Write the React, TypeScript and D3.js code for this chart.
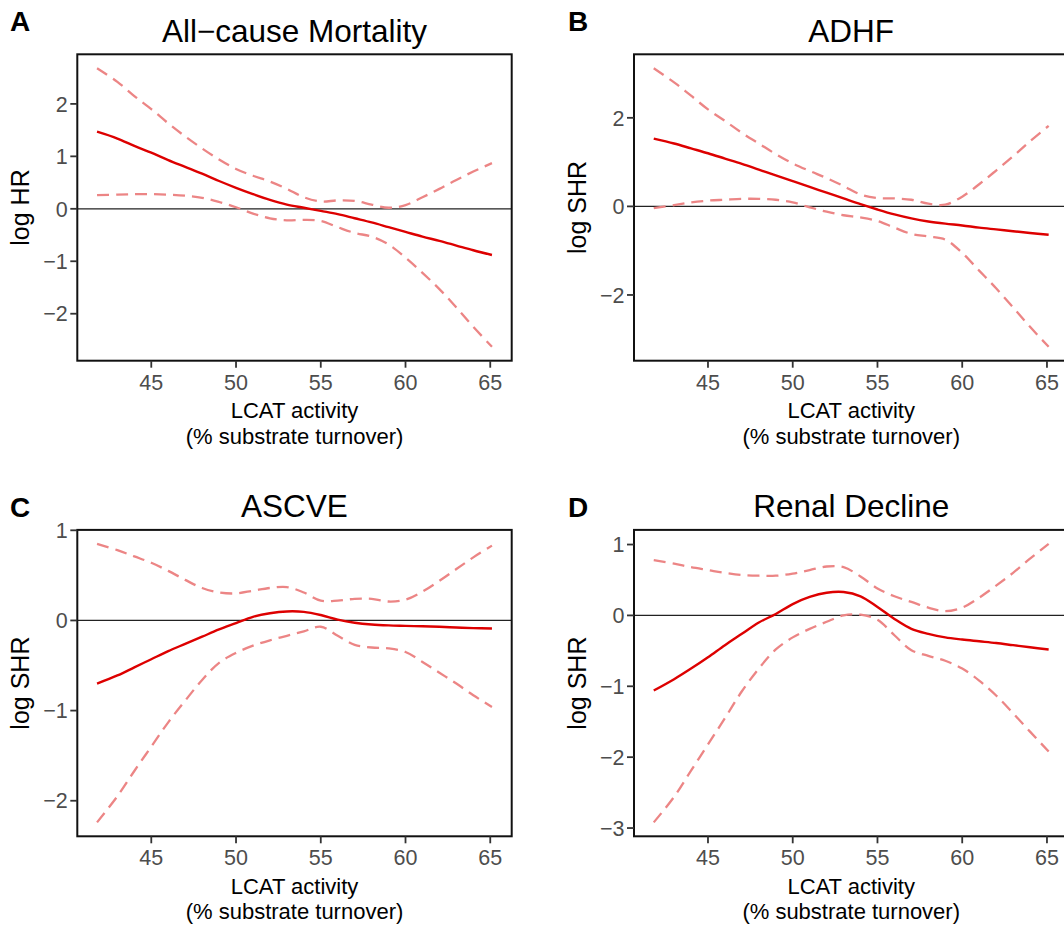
import React from 'react';
import * as d3 from 'd3';

// ---------- data ----------
const xValues = [41.8, 43, 44, 45, 46, 47, 48, 49, 50, 51, 52, 53, 54, 55, 56, 57, 58, 59, 60, 61, 62, 63, 64, 65.1];
const xTicks = [45, 50, 55, 60, 65];

const panelLetters = ['A', 'B', 'C', 'D'];
const panelTitles = ['All\u2212cause Mortality', 'ADHF', 'ASCVE', 'Renal Decline'];
const yTitles = ['log HR', 'log SHR', 'log SHR', 'log SHR'];
const xTitleLine1 = 'LCAT activity';
const xTitleLine2 = '(% substrate turnover)';

const yTicksA = [-2, -1, 0, 1, 2];
const yTicksB = [-2, 0, 2];
const yTicksC = [-2, -1, 0, 1];
const yTicksD = [-3, -2, -1, 0, 1];

// A: All-cause Mortality (log HR)
const estA = [1.47, 1.34, 1.2, 1.07, 0.93, 0.8, 0.67, 0.53, 0.4, 0.28, 0.17, 0.08, 0.02, -0.04, -0.1, -0.18, -0.26, -0.35, -0.44, -0.53, -0.61, -0.7, -0.79, -0.88];
const upperA = [2.68, 2.42, 2.15, 1.9, 1.63, 1.38, 1.15, 0.94, 0.76, 0.63, 0.52, 0.38, 0.22, 0.14, 0.16, 0.15, 0.08, 0.02, 0.07, 0.22, 0.38, 0.55, 0.71, 0.87];
const lowerA = [0.26, 0.27, 0.28, 0.28, 0.27, 0.25, 0.21, 0.13, 0.03, -0.09, -0.18, -0.22, -0.21, -0.23, -0.35, -0.46, -0.53, -0.68, -0.93, -1.22, -1.53, -1.88, -2.25, -2.63];

// B: ADHF (log SHR)
const estB = [1.53, 1.42, 1.31, 1.2, 1.08, 0.96, 0.83, 0.7, 0.57, 0.44, 0.31, 0.18, 0.05, -0.07, -0.18, -0.27, -0.34, -0.39, -0.43, -0.48, -0.52, -0.56, -0.6, -0.64];
const upperB = [3.12, 2.8, 2.5, 2.19, 1.93, 1.66, 1.42, 1.18, 0.97, 0.8, 0.64, 0.46, 0.27, 0.19, 0.18, 0.15, 0.06, 0.04, 0.22, 0.5, 0.81, 1.13, 1.47, 1.82];
const lowerB = [-0.04, 0.03, 0.09, 0.13, 0.15, 0.17, 0.17, 0.15, 0.09, -0.02, -0.12, -0.2, -0.25, -0.33, -0.48, -0.62, -0.68, -0.75, -1.05, -1.45, -1.85, -2.28, -2.72, -3.17];

// C: ASCVE (log SHR)
const estC = [-0.7, -0.61, -0.52, -0.43, -0.34, -0.26, -0.18, -0.1, -0.03, 0.04, 0.08, 0.1, 0.095, 0.06, 0.01, -0.025, -0.045, -0.055, -0.06, -0.065, -0.07, -0.078, -0.085, -0.09];
const upperC = [0.85, 0.78, 0.71, 0.64, 0.55, 0.45, 0.36, 0.31, 0.3, 0.33, 0.36, 0.37, 0.31, 0.22, 0.22, 0.24, 0.24, 0.21, 0.23, 0.32, 0.44, 0.57, 0.7, 0.83];
const lowerC = [-2.24, -1.95, -1.67, -1.4, -1.13, -0.89, -0.66, -0.47, -0.36, -0.28, -0.22, -0.17, -0.12, -0.07, -0.17, -0.27, -0.3, -0.31, -0.35, -0.46, -0.58, -0.7, -0.83, -0.96];

// D: Renal Decline (log SHR)
const estD = [-1.06, -0.9, -0.75, -0.59, -0.42, -0.26, -0.1, 0.02, 0.16, 0.26, 0.32, 0.33, 0.27, 0.12, -0.05, -0.19, -0.26, -0.31, -0.34, -0.365, -0.39, -0.42, -0.45, -0.48];
const upperD = [0.78, 0.73, 0.68, 0.64, 0.6, 0.57, 0.56, 0.56, 0.59, 0.64, 0.69, 0.68, 0.55, 0.38, 0.27, 0.19, 0.11, 0.06, 0.11, 0.25, 0.42, 0.6, 0.8, 1.01];
const lowerD = [-2.92, -2.56, -2.19, -1.82, -1.45, -1.07, -0.75, -0.48, -0.31, -0.19, -0.09, 0.0, 0.01, -0.06, -0.28, -0.49, -0.57, -0.64, -0.75, -0.92, -1.13, -1.38, -1.64, -1.92];

const panels = [
  { est: estA, upper: upperA, lower: lowerA, ticks: yTicksA },
  { est: estB, upper: upperB, lower: lowerB, ticks: yTicksB },
  { est: estC, upper: upperC, lower: lowerC, ticks: yTicksC },
  { est: estD, upper: upperD, lower: lowerD, ticks: yTicksD },
];

// ---------- layout ----------
const W = 1064;
const H = 928;
const colOffset = [0, 556.7];
const rowOffset = [0, 475.6];
const letterX = [10, 568];
const letterBaseline = [31, 517.3];
const BOX = { left: 77.3, right: 511.7, top: 54.3, bottom: 360.7 };
const FONT = "'Liberation Sans', Arial, Helvetica, sans-serif";
const SOLID = '#DD0000';
const DASHED = '#EC8585';

function fmt(v: number) {
  return v < 0 ? '\u2212' + Math.abs(v) : String(v);
}

function Panel({ idx }: { idx: number }) {
  const p = panels[idx];
  const ox = colOffset[idx % 2];
  const oy = rowOffset[Math.floor(idx / 2)];
  const left = BOX.left + ox;
  const right = BOX.right + ox;
  const top = BOX.top + oy;
  const bottom = BOX.bottom + oy;

  const xe = d3.extent(xValues) as [number, number];
  const xp = (xe[1] - xe[0]) * 0.05;
  const x = d3.scaleLinear().domain([xe[0] - xp, xe[1] + xp]).range([left, right]);
  const ye = d3.extent([...p.est, ...p.upper, ...p.lower]) as [number, number];
  const yp = (ye[1] - ye[0]) * 0.05;
  const y = d3.scaleLinear().domain([ye[0] - yp, ye[1] + yp]).range([bottom, top]);

  const line = d3
    .line<number>()
    .x((_, i) => x(xValues[i]))
    .y((d) => y(d))
    .curve(d3.curveCatmullRom.alpha(0.5));

  const cx = (left + right) / 2;
  const cy = (top + bottom) / 2;

  return (
    <g>
      <text x={letterX[idx % 2]} y={letterBaseline[Math.floor(idx / 2)]} fontSize={28} fontWeight="bold" fontFamily={FONT} fill="#000">
        {panelLetters[idx]}
      </text>
      <text x={cx} y={top - 12.6} fontSize={31.5} fontFamily={FONT} textAnchor="middle" fill="#000">
        {panelTitles[idx]}
      </text>
      {/* zero line */}
      <line x1={left} x2={right} y1={y(0)} y2={y(0)} stroke="#222" strokeWidth={1.2} />
      {/* CI */}
      <path d={line(p.upper) || ''} fill="none" stroke={DASHED} strokeWidth={2.3} strokeDasharray="12 7" />
      <path d={line(p.lower) || ''} fill="none" stroke={DASHED} strokeWidth={2.3} strokeDasharray="12 7" />
      {/* estimate */}
      <path d={line(p.est) || ''} fill="none" stroke={SOLID} strokeWidth={2.4} />
      {/* border */}
      <rect x={left} y={top} width={right - left} height={bottom - top} fill="none" stroke="#111" strokeWidth={2} />
      {/* y ticks */}
      {p.ticks.map((t) => (
        <g key={'y' + t}>
          <line x1={left - 7} x2={left} y1={y(t)} y2={y(t)} stroke="#333" strokeWidth={1.8} />
          <text x={left - 9.5} y={y(t)} dy="0.36em" textAnchor="end" fontSize={21.5} fontFamily={FONT} fill="#4D4D4D">
            {fmt(t)}
          </text>
        </g>
      ))}
      {/* x ticks */}
      {xTicks.map((t) => (
        <g key={'x' + t}>
          <line x1={x(t)} x2={x(t)} y1={bottom} y2={bottom + 7} stroke="#333" strokeWidth={1.8} />
          <text x={x(t)} y={bottom + 28.8} textAnchor="middle" fontSize={21.5} fontFamily={FONT} fill="#4D4D4D">
            {t}
          </text>
        </g>
      ))}
      <text x={cx} y={bottom + 57.5} textAnchor="middle" fontSize={22} fontFamily={FONT} fill="#000">
        {xTitleLine1}
      </text>
      <text x={cx} y={bottom + 83} textAnchor="middle" fontSize={22} fontFamily={FONT} fill="#000">
        {xTitleLine2}
      </text>
      <text
        transform={`translate(${left - 48.5},${cy}) rotate(-90)`}
        textAnchor="middle"
        fontSize={25}
        fontFamily={FONT}
        fill="#000"
      >
        {yTitles[idx]}
      </text>
    </g>
  );
}

export default function App() {
  return (
    <svg
      width={W}
      height={H}
      viewBox={`0 0 ${W} ${H}`}
      style={{ position: 'absolute', left: 0, top: 0, background: '#fff' }}
    >
      <rect x={0} y={0} width={W} height={H} fill="#fff" />
      {[0, 1, 2, 3].map((i) => (
        <Panel key={i} idx={i} />
      ))}
    </svg>
  );
}
